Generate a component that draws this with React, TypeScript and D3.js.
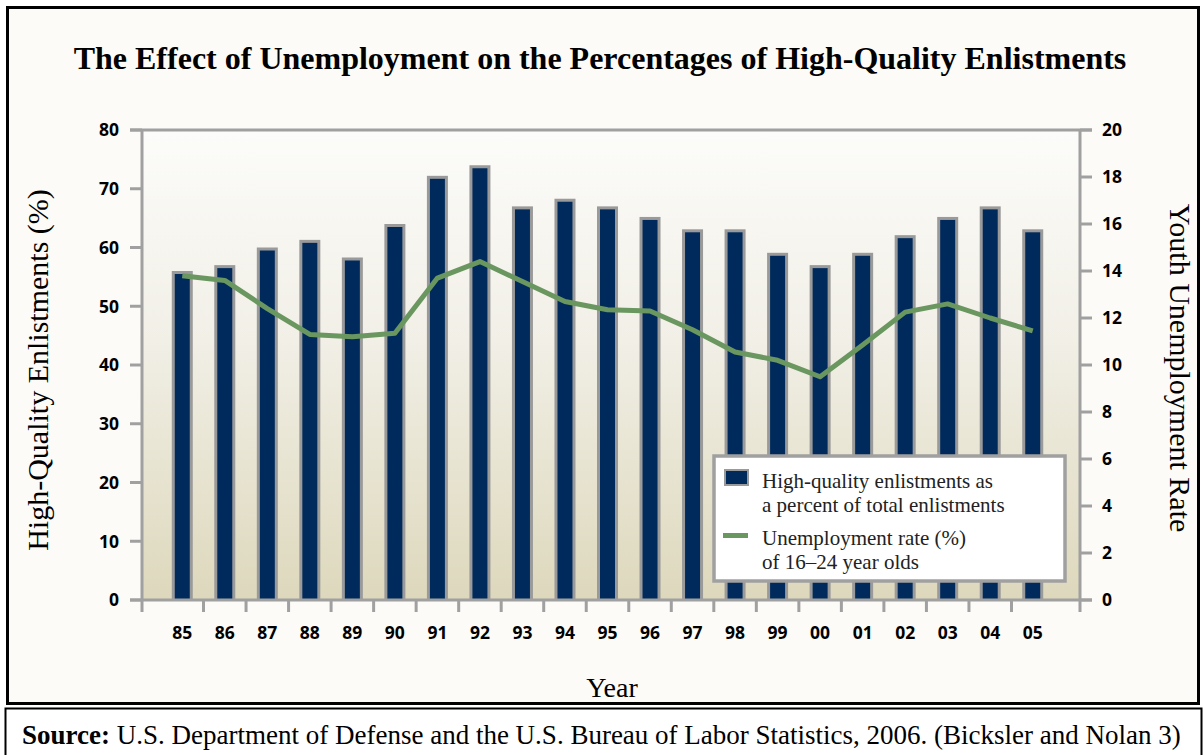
import { useEffect, useRef } from 'react'
import * as d3 from 'd3'

const years = ['85', '86', '87', '88', '89', '90', '91', '92', '93', '94', '95', '96', '97', '98', '99', '00', '01', '02', '03', '04', '05']
const enlistPct = [56, 57, 60, 61.3, 58.3, 64, 72.2, 74, 67, 68.3, 67, 65.2, 63.1, 63.1, 59.1, 57, 59.1, 62.1, 65.2, 67, 63.1]
const unemployment = [13.8, 13.6, 12.4, 11.3, 11.2, 11.35, 13.7, 14.4, 13.55, 12.7, 12.35, 12.3, 11.5, 10.55, 10.2, 9.5, 10.85, 12.25, 12.6, 12.0, 11.45]
const leftTicks = [0, 10, 20, 30, 40, 50, 60, 70, 80]
const rightTicks = [0, 2, 4, 6, 8, 10, 12, 14, 16, 18, 20]
const legendLines = [
  ['High-quality enlistments as', 'a percent of total enlistments'],
  ['Unemployment rate (%)', 'of 16\u201324 year olds'],
]

const W = 1203
const H = 755
const navy = '#002a5c'
const green = '#6a9660'
const axisGray = '#a0a0a0'
const tickFont = '"Open Sans", "DejaVu Sans", sans-serif'
const serif = '"Liberation Serif", "Times New Roman", serif'

export default function App() {
  const ref = useRef<SVGSVGElement | null>(null)

  useEffect(() => {
    const svg = d3.select(ref.current)
    svg.selectAll('*').remove()

    const plot = { left: 142, right: 1080, top: 130, bottom: 600 }

    const x = d3.scaleBand<string>().domain(years).range([161, 1054])
    const yL = d3.scaleLinear().domain([0, 80]).range([plot.bottom, plot.top])
    const yR = d3.scaleLinear().domain([0, 20]).range([plot.bottom, plot.top])

    const defs = svg.append('defs')
    const grad = defs.append('linearGradient').attr('id', 'bg').attr('x1', 0).attr('x2', 0).attr('y1', 0).attr('y2', 1)
    grad.append('stop').attr('offset', '0%').attr('stop-color', '#fcfcfa')
    grad.append('stop').attr('offset', '45%').attr('stop-color', '#f1efe6')
    grad.append('stop').attr('offset', '100%').attr('stop-color', '#ddd8bc')

    // page + frames
    svg.append('rect').attr('width', W).attr('height', H).attr('fill', '#ffffff')
    svg.append('rect').attr('x', 7.5).attr('y', 7.5).attr('width', 1191).attr('height', 696)
      .attr('fill', '#fcfbf8').attr('stroke', '#000').attr('stroke-width', 3)
    svg.append('rect').attr('x', 5.5).attr('y', 708.5).attr('width', 1196).attr('height', 60)
      .attr('fill', '#fff').attr('stroke', '#000').attr('stroke-width', 2)

    // title
    svg.append('text').attr('x', 600).attr('y', 69).attr('text-anchor', 'middle')
      .attr('font-family', serif).attr('font-weight', 'bold').attr('font-size', 32)
      .text('The Effect of Unemployment on the Percentages of High-Quality Enlistments')

    // plot background
    svg.append('rect').attr('x', plot.left).attr('y', plot.top)
      .attr('width', plot.right - plot.left).attr('height', plot.bottom - plot.top)
      .attr('fill', 'url(#bg)')

    // bars
    const bars = svg.append('g')
    bars.selectAll('.bar-edge').data(years).enter().append('rect')
      .attr('x', (d) => x(d)! + x.bandwidth() / 2 - 10.5)
      .attr('y', (d, i) => yL(enlistPct[i]))
      .attr('width', 21)
      .attr('height', (d, i) => plot.bottom - yL(enlistPct[i]))
      .attr('fill', '#9a9a9a')
    bars.selectAll('.bar').data(years).enter().append('rect')
      .attr('x', (d) => x(d)! + x.bandwidth() / 2 - 7.5)
      .attr('y', (d, i) => yL(enlistPct[i]) + 3)
      .attr('width', 15)
      .attr('height', (d, i) => plot.bottom - yL(enlistPct[i]) - 3)
      .attr('fill', navy)

    // line
    const line = d3.line<number>()
      .x((d, i) => x(years[i])! + x.bandwidth() / 2)
      .y((d) => yR(d))
    svg.append('path').datum(unemployment).attr('d', line)
      .attr('fill', 'none').attr('stroke', green).attr('stroke-width', 5).attr('stroke-linejoin', 'round')

    // frame lines
    const axes = svg.append('g').attr('stroke', axisGray).attr('stroke-width', 3).attr('fill', 'none')
    axes.append('line').attr('x1', 130).attr('x2', plot.right + 12).attr('y1', plot.top).attr('y2', plot.top)
    axes.append('line').attr('x1', 130).attr('x2', plot.right + 12).attr('y1', plot.bottom).attr('y2', plot.bottom)
    axes.append('line').attr('x1', plot.left).attr('x2', plot.left).attr('y1', plot.top).attr('y2', plot.bottom + 12)
    axes.append('line').attr('x1', plot.right).attr('x2', plot.right).attr('y1', plot.top).attr('y2', plot.bottom + 12)

    // left ticks
    leftTicks.forEach((t) => {
      axes.append('line').attr('x1', 130).attr('x2', plot.left).attr('y1', yL(t)).attr('y2', yL(t))
      svg.append('text').attr('x', 119).attr('y', yL(t)).attr('dy', '0.36em')
        .attr('text-anchor', 'end').attr('font-family', tickFont).attr('font-weight', 'bold').attr('font-size', 17.5)
        .text(t)
    })
    // right ticks
    rightTicks.forEach((t) => {
      axes.append('line').attr('x1', plot.right).attr('x2', plot.right + 12).attr('y1', yR(t)).attr('y2', yR(t))
      svg.append('text').attr('x', 1102).attr('y', yR(t)).attr('dy', '0.36em')
        .attr('text-anchor', 'start').attr('font-family', tickFont).attr('font-weight', 'bold').attr('font-size', 17.5)
        .text(t)
    })
    // x ticks at band edges
    years.slice(1).forEach((d) => {
      axes.append('line').attr('x1', x(d)!).attr('x2', x(d)!).attr('y1', plot.bottom).attr('y2', plot.bottom + 12)
    })
    years.forEach((d) => {
      svg.append('text').attr('x', x(d)! + x.bandwidth() / 2).attr('y', 639)
        .attr('text-anchor', 'middle').attr('font-family', tickFont).attr('font-weight', 'bold').attr('font-size', 17.5)
        .text(d)
    })

    // axis titles
    svg.append('text').attr('transform', 'translate(48,370) rotate(-90)').attr('text-anchor', 'middle')
      .attr('font-family', serif).attr('font-size', 30).text('High-Quality Enlistments (%)')
    svg.append('text').attr('transform', 'translate(1170,368) rotate(90)').attr('text-anchor', 'middle')
      .attr('font-family', serif).attr('font-size', 30).text('Youth Unemployment Rate')
    svg.append('text').attr('x', 612).attr('y', 697).attr('text-anchor', 'middle')
      .attr('font-family', serif).attr('font-size', 28).text('Year')

    // legend
    const lg = svg.append('g')
    lg.append('rect').attr('x', 714).attr('y', 456).attr('width', 351).attr('height', 125)
      .attr('fill', '#fff').attr('stroke', axisGray).attr('stroke-width', 3.5)
    lg.append('rect').attr('x', 725).attr('y', 470).attr('width', 23).attr('height', 15)
      .attr('fill', navy).attr('stroke', '#9a9a9a').attr('stroke-width', 2)
    lg.append('line').attr('x1', 723).attr('x2', 748).attr('y1', 535.5).attr('y2', 535.5)
      .attr('stroke', green).attr('stroke-width', 5)
    legendLines.forEach((pair, k) => {
      pair.forEach((s, j) => {
        lg.append('text').attr('x', 762).attr('y', 488 + k * 57 + j * 24)
          .attr('font-family', serif).attr('font-size', 21).attr('fill', '#222').text(s)
      })
    })

    // source
    const src = svg.append('text').attr('x', 22).attr('y', 744).attr('font-family', serif).attr('font-size', 27)
    src.append('tspan').attr('font-weight', 'bold').text('Source:')
    src.append('tspan').text(' U.S. Department of Defense and the U.S. Bureau of Labor Statistics, 2006. (Bicksler and Nolan 3)')
  }, [])

  return <svg width={W} height={H} ref={ref} style={{ position: 'absolute', left: 0, top: 0 }} />
}
